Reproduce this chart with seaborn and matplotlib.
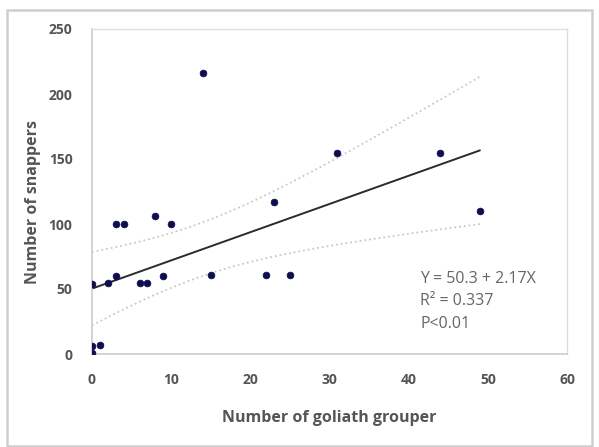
import numpy as np
import pandas as pd
import seaborn as sns
import matplotlib
matplotlib.use("Agg")
import matplotlib.pyplot as plt
from matplotlib.patches import Rectangle

# Survey counts per site
goliath = [0, 0, 0, 1, 2, 3, 3, 4, 6, 7, 8, 9, 10, 14, 15, 22, 23, 25, 31, 44, 49]
snappers = [54, 1, 6, 7, 55, 60, 100, 100, 55, 55, 106, 60, 100, 216, 61, 61, 117, 61, 155, 155, 110]

# Fitted model reported on the chart
intercept = 50.3
slope = 2.17
r_squared = 0.337
p_text = "P<0.01"

x_ticks = [0, 10, 20, 30, 40, 50, 60]
y_ticks = [0, 50, 100, 150, 200, 250]

df = pd.DataFrame({"goliath": goliath, "snappers": snappers})

sns.set_theme(style="white")
plt.rcParams["font.family"] = ["Open Sans", "DejaVu Sans"]

W, H = 599, 447
fig = plt.figure(figsize=(W / 100, H / 100), dpi=100)
ax = fig.add_axes([92 / W, 1 - 354 / H, (567 - 92) / W, (354 - 29) / H])

# Frame around the whole chart
fig.patches.append(Rectangle((7 / W, 1 / H), 585 / W, 436 / H,
                             transform=fig.transFigure, fill=False,
                             edgecolor="#cfcfcf", linewidth=1.8))

# Regression line and 95% confidence band for the mean
x = np.asarray(goliath, float)
y = np.asarray(snappers, float)
n = len(x)
xs = np.linspace(x.min(), x.max(), 200)
fit = intercept + slope * xs
resid = y - (intercept + slope * x)
s = np.sqrt(np.sum(resid ** 2) / (n - 2))
sxx = np.sum((x - x.mean()) ** 2)
t_crit = 2.093
half = t_crit * s * np.sqrt(1 / n + (xs - x.mean()) ** 2 / sxx)

sns.lineplot(x=xs, y=fit + half, ax=ax, color="#c8c8c8", linestyle=":", linewidth=1.3)
sns.lineplot(x=xs, y=fit - half, ax=ax, color="#c8c8c8", linestyle=":", linewidth=1.3)
sns.lineplot(x=xs, y=fit, ax=ax, color="#2b2b2b", linewidth=1.4)

sns.scatterplot(data=df, x="goliath", y="snappers", ax=ax, color="#0d0d4f",
                s=24, edgecolor="#0d0d4f", linewidth=0.5, zorder=5)

ax.set_xlim(0, 60)
ax.set_ylim(0, 250)
ax.set_xticks(x_ticks)
ax.set_yticks(y_ticks)
ax.tick_params(axis="x", direction="inout", length=6, width=0.8, color="#d0d0d0",
               labelsize=10, labelcolor="#555555", pad=11)
ax.tick_params(axis="y", direction="out", length=4, width=0.8, color="#d0d0d0",
               labelsize=10, labelcolor="#555555", pad=10)
for lab in ax.get_xticklabels() + ax.get_yticklabels():
    lab.set_fontweight("bold")

for side in ["left", "bottom"]:
    ax.spines[side].set_color("#d0d0d0")
    ax.spines[side].set_linewidth(1.3)
for side in ["top", "right"]:
    ax.spines[side].set_color("#dedede")
    ax.spines[side].set_linewidth(1.0)

ax.set_xlabel("Number of goliath grouper", fontsize=11.5, fontweight="bold",
              color="#555555")
ax.set_ylabel("Number of snappers", fontsize=11.5, fontweight="bold",
              color="#555555")
ax.xaxis.set_label_coords(0.5, (354 - 418) / 325, transform=ax.transAxes)
ax.xaxis.label.set_va("center")
ax.yaxis.set_label_coords((33 - 92) / 475, (354 - 202) / 325, transform=ax.transAxes)
ax.yaxis.label.set_va("center")

for txt, ypix in [(f"Y = {intercept} + {slope}X", 279),
                  (f"R² = {r_squared}", 301),
                  (p_text, 324)]:
    ax.text((420 - 92) / 475, (354 - ypix) / 325, txt, transform=ax.transAxes,
            fontsize=11.5, color="#666666", va="center")

fig.savefig("out.png", dpi=100)
